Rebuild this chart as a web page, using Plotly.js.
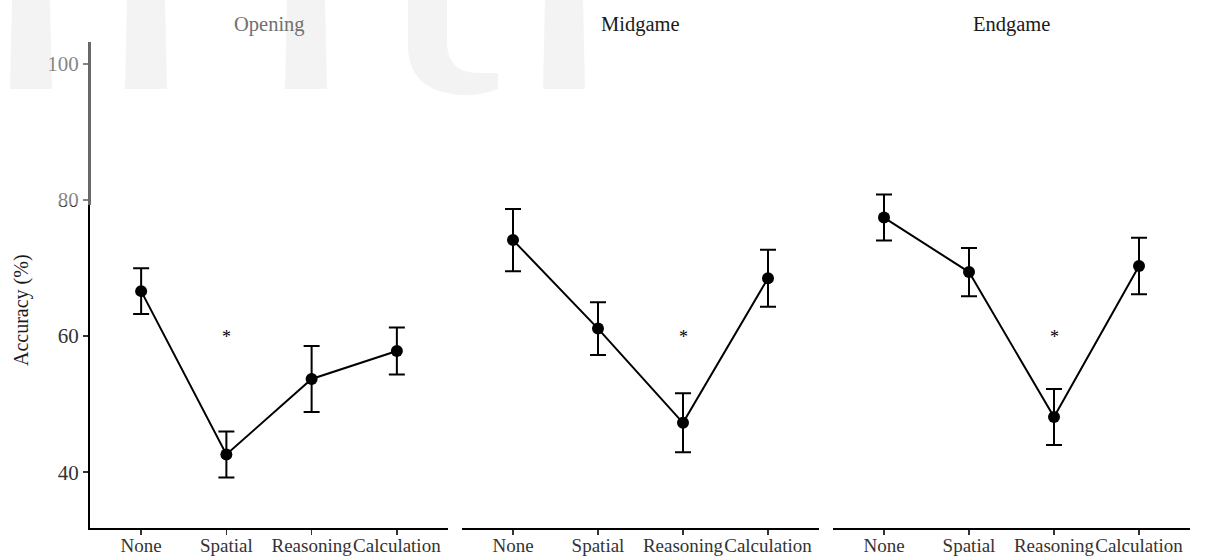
<!DOCTYPE html>
<html>
<head>
<meta charset="utf-8">
<script src="https://cdn.plot.ly/plotly-3.0.1.min.js"></script>
<style>html,body{margin:0;padding:0;background:#fff;}#chart{width:1205px;height:560px;}</style>
</head>
<body>
<div id="chart"></div>
<script>
// ---- data ----
const conditions = ["None", "Spatial", "Reasoning", "Calculation"];
const phases = ["Opening", "Midgame", "Endgame"];
const openingAcc = [66.6, 42.6, 53.7, 57.8];
const openingSE  = [3.35, 3.38, 4.85, 3.45];
const midgameAcc = [74.1, 61.1, 47.25, 68.5];
const midgameSE  = [4.58, 3.87, 4.33, 4.19];
const endgameAcc = [77.4, 69.4, 48.1, 70.3];
const endgameSE  = [3.38, 3.55, 4.11, 4.16];
const sigCondition = ["Spatial", "Reasoning", "Reasoning"];
const sigLevel = [59.9, 59.9, 59.9];
const yTicks = [40, 60, 80, 100];

const accs = [openingAcc, midgameAcc, endgameAcc];
const ses = [openingSE, midgameSE, endgameSE];
const axisIds = ["x", "x2", "x3"];

const FONT = "Liberation Serif, Times New Roman, serif";
const W = 1205, H = 560, L = 90, R = 15, T = 42, B = 32;
const pw = W - L - R, ph = H - T - B;
const px = v => (v - L) / pw;
const py = v => (H - B - v) / ph;

const traces = accs.map((a, i) => ({
  type: "scatter", mode: "lines+markers",
  x: conditions, y: a,
  xaxis: axisIds[i], yaxis: "y",
  line: {color: "#000", width: 2},
  marker: {color: "#000", size: 12},
  error_y: {type: "data", array: ses[i], visible: true, color: "#000", thickness: 2, width: 8},
  hoverinfo: "x+y", showlegend: false
}));

const domains = [[0, px(448)], [px(462), px(819)], [px(833), 1]];
const titleColors = ["#707070", "#1a1a1a", "#1a1a1a"];

const layout = {
  width: W, height: H,
  margin: {l: L, r: R, t: T, b: B},
  paper_bgcolor: "#fff", plot_bgcolor: "rgba(0,0,0,0)",
  font: {family: FONT, size: 20, color: "#333"},
  showlegend: false,
  yaxis: {
    range: [31.8, 103.2], tickvals: yTicks, showgrid: false, zeroline: false,
    showline: true, linecolor: "#000", linewidth: 2,
    ticks: "outside", ticklen: 5, tickwidth: 1.5, tickcolor: "#333",
    tickfont: {family: FONT, size: 21, color: "#333"},
    anchor: "x"
  },
  annotations: [],
  shapes: []
};
axisIds.forEach((id, i) => {
  const key = "xaxis" + (i === 0 ? "" : (i + 1));
  layout[key] = {
    domain: domains[i], type: "category", categoryorder: "array", categoryarray: conditions,
    range: [-0.6, 3.6], showgrid: false, zeroline: false, tickangle: 0,
    showline: true, linecolor: "#000", linewidth: 2,
    ticks: "outside", ticklen: 5, tickwidth: 1.5, tickcolor: "#333",
    ticklabelstandoff: -6,
    tickfont: {family: FONT, size: 19, color: "#333"},
    anchor: "y"
  };
  layout.annotations.push({
    xref: "paper", yref: "paper",
    x: (domains[i][0] + domains[i][1]) / 2, y: py(25),
    xanchor: "center", yanchor: "middle", showarrow: false,
    text: phases[i], font: {family: FONT, size: 20.5, color: titleColors[i]}
  });
  layout.annotations.push({
    xref: id, yref: "y", x: sigCondition[i], y: sigLevel[i],
    xanchor: "center", yanchor: "middle", showarrow: false,
    text: "*", font: {family: FONT, size: 18, color: "#000"}
  });
});
layout.annotations.push({
  xref: "paper", yref: "paper", x: px(22), y: py(310),
  xanchor: "center", yanchor: "middle", showarrow: false, textangle: -90,
  text: "Accuracy (%)", font: {family: FONT, size: 20, color: "#1a1a1a"}
});

// faint background watermark
const wm = "#ececec";
[[10, 52], [125, 167], [285, 327], [543, 585]].forEach(b => {
  layout.shapes.push({
    type: "path", xref: "paper", yref: "paper", layer: "below", line: {width: 0}, fillcolor: wm,
    path: `M ${px(b[0] + 2)} ${py(0)} L ${px(b[1] - 2)} ${py(0)} L ${px(b[1])} ${py(89)} L ${px(b[0])} ${py(89)} Z`
  });
});
layout.shapes.push({
  type: "path", xref: "paper", yref: "paper", layer: "below", line: {width: 0}, fillcolor: wm,
  path: `M ${px(408)} ${py(0)} L ${px(447)} ${py(0)} L ${px(447)} ${py(45)} Q ${px(449)} ${py(73)} ${px(478)} ${py(73)} L ${px(498)} ${py(73)} L ${px(498)} ${py(89)} Q ${px(480)} ${py(96)} ${px(462)} ${py(95)} Q ${px(408)} ${py(92)} ${px(408)} ${py(45)} Z`
});
layout.shapes.push({
  type: "rect", xref: "paper", yref: "paper", layer: "above", line: {width: 0},
  fillcolor: "rgba(255,255,255,0.4)",
  x0: px(0), x1: px(590), y0: py(205), y1: py(0)
});
layout.shapes.push({
  type: "line", xref: "paper", yref: "paper", layer: "above",
  line: {color: "#6a6a6a", width: 2},
  x0: 0, x1: 0, y0: py(205), y1: 1
});

Plotly.newPlot("chart", traces, layout, {displayModeBar: false, staticPlot: true});
</script>
</body>
</html>
